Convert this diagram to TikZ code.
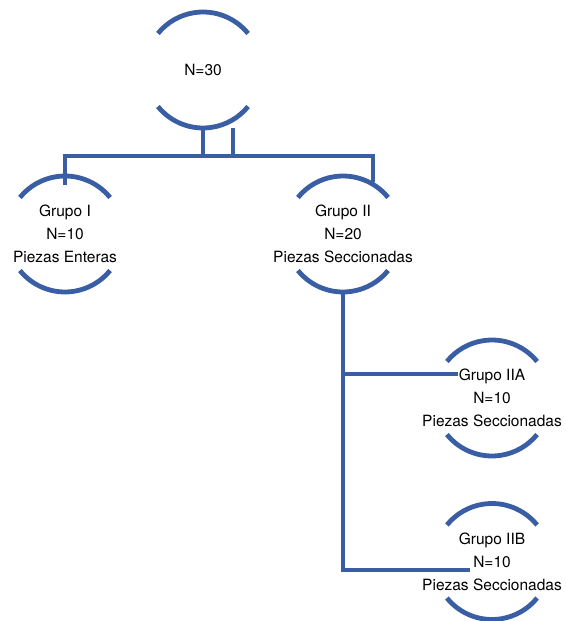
\documentclass[tikz,border=0pt]{standalone}
\usepackage{fontspec}
\setmainfont{TeX Gyre Heros}
\usetikzlibrary{positioning}
\definecolor{ringblue}{RGB}{58,94,164}
\begin{document}
\begin{tikzpicture}[x=1pt,y=-1pt,on grid,
    grupo/.style={align=center,inner sep=0pt,font=\fontsize{15.5}{23}\selectfont},
    ring/.style={draw=ringblue,line width=4.8pt},
    link/.style={draw=ringblue,line width=4.8pt}]
  \useasboundingbox (0,0) rectangle (565,621);

  \node[grupo] (n30) at (203,70) {N=30};
  \node[grupo] (g1) [below left=164pt and 138pt of n30] {Grupo I\\N=10\\Piezas Enteras};
  \node[grupo] (g2) [below right=164pt and 140pt of n30] {Grupo II\\N=20\\Piezas Seccionadas};
  \node[grupo] (g2a) [below right=164pt and 149pt of g2] {Grupo IIA\\N=10\\Piezas Seccionadas};
  \node[grupo] (g2b) [below=163.5pt of g2a] {Grupo IIB\\N=10\\Piezas Seccionadas};

  % open circles round each group
  \foreach \n in {n30,g1,g2,g2a,g2b} {
    \draw[ring] ([shift={(39:58pt)}]\n.center) arc[start angle=39,end angle=141,radius=58pt];
    \draw[ring] ([shift={(219:58pt)}]\n.center) arc[start angle=219,end angle=321,radius=58pt];
  }

  \draw[link] ([shift={(30pt,-58pt)}]n30.center) -- ++(0,28) -| ([yshift=49pt]g1.center);
  \draw[link] ([yshift=-58pt]n30.center) -- ++(0,28) -| ([shift={(30pt,52pt)}]g2.center);
  \draw[link] ([yshift=-58pt]g2.center) |- ([shift={(-34pt,24pt)}]g2a.center);
  \draw[link] ([yshift=-58pt]g2.center) |- ([shift={(-22pt,-8.5pt)}]g2b.center);
\end{tikzpicture}
\end{document}
